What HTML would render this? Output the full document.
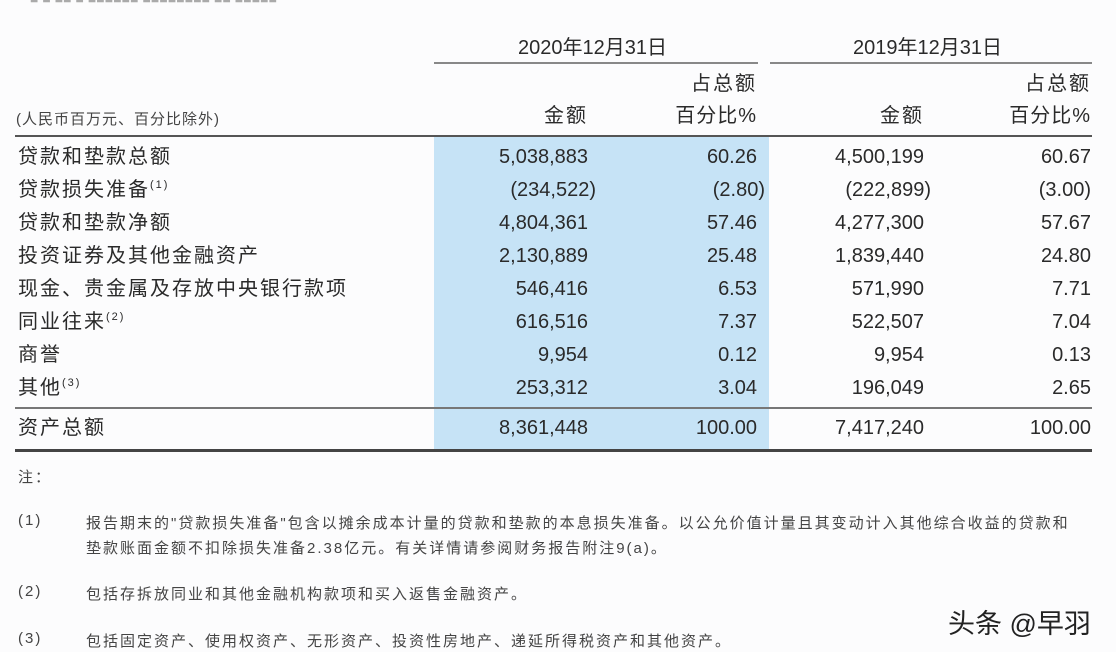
<!DOCTYPE html>
<html><head><meta charset="utf-8">
<style>
html,body{margin:0;padding:0;}
body{width:1116px;height:652px;background:#fcfcfd;position:relative;overflow:hidden;font-family:"Liberation Sans","Noto Sans CJK SC",sans-serif;color:#2a2a2a;}
.a{position:absolute;white-space:nowrap;}
.hl{position:absolute;left:434px;top:137px;width:335px;height:312px;background:#c6e3f6;}
.line{position:absolute;background:#555;}
.row{font-size:20px;line-height:24px;}
.lbl{left:18px;letter-spacing:2px;}
.c1{right:528px;} .c2{right:359px;} .c3{right:192px;} .c4{right:25px;}
sup{font-size:11px;position:relative;top:-8px;vertical-align:baseline;line-height:0;}
.note{font-size:15px;color:#444;letter-spacing:2px;}
</style></head>
<body>
<div class="a" style="left:30px;top:-10px;font-size:14px;color:#aaa;">■ ■ ■■ ■ ■■■■■■ ■■■■■■■■ ■■ ■■■■■</div>
<div class="hl"></div>
<div class="a" style="left:518px;top:31px;font-size:20px;">2020年12月31日</div>
<div class="a" style="left:853px;top:31px;font-size:20px;">2019年12月31日</div>
<div class="line" style="left:434px;top:62px;width:324px;height:2px;background:#888;"></div>
<div class="line" style="left:770px;top:62px;width:322px;height:2px;background:#888;"></div>
<div class="a row c2" style="top:72px;letter-spacing:2px;">占总额</div>
<div class="a row c4" style="top:72px;letter-spacing:2px;">占总额</div>
<div class="a" style="left:16px;top:108px;font-size:15px;color:#444;letter-spacing:1px;">(人民币百万元、百分比除外)</div>
<div class="a row c1" style="top:104px;letter-spacing:2px;">金额</div>
<div class="a row c2" style="top:104px;letter-spacing:1px;">百分比%</div>
<div class="a row c3" style="top:104px;letter-spacing:2px;">金额</div>
<div class="a row c4" style="top:104px;letter-spacing:1px;">百分比%</div>
<div class="line" style="left:15px;top:135px;width:1077px;height:2px;"></div>

<div class="a row lbl" style="top:145px">贷款和垫款总额</div>
<div class="a row c1" style="top:145px">5,038,883</div>
<div class="a row c2" style="top:145px">60.26</div>
<div class="a row c3" style="top:145px">4,500,199</div>
<div class="a row c4" style="top:145px">60.67</div>

<div class="a row lbl" style="top:178px">贷款损失准备<sup>(1)</sup></div>
<div class="a row" style="top:178px;right:520px">(234,522)</div>
<div class="a row" style="top:178px;right:351px">(2.80)</div>
<div class="a row" style="top:178px;right:185px">(222,899)</div>
<div class="a row" style="top:178px;right:25px">(3.00)</div>

<div class="a row lbl" style="top:211px">贷款和垫款净额</div>
<div class="a row c1" style="top:211px">4,804,361</div>
<div class="a row c2" style="top:211px">57.46</div>
<div class="a row c3" style="top:211px">4,277,300</div>
<div class="a row c4" style="top:211px">57.67</div>

<div class="a row lbl" style="top:244px">投资证券及其他金融资产</div>
<div class="a row c1" style="top:244px">2,130,889</div>
<div class="a row c2" style="top:244px">25.48</div>
<div class="a row c3" style="top:244px">1,839,440</div>
<div class="a row c4" style="top:244px">24.80</div>

<div class="a row lbl" style="top:277px">现金、贵金属及存放中央银行款项</div>
<div class="a row c1" style="top:277px">546,416</div>
<div class="a row c2" style="top:277px">6.53</div>
<div class="a row c3" style="top:277px">571,990</div>
<div class="a row c4" style="top:277px">7.71</div>

<div class="a row lbl" style="top:310px">同业往来<sup>(2)</sup></div>
<div class="a row c1" style="top:310px">616,516</div>
<div class="a row c2" style="top:310px">7.37</div>
<div class="a row c3" style="top:310px">522,507</div>
<div class="a row c4" style="top:310px">7.04</div>

<div class="a row lbl" style="top:343px">商誉</div>
<div class="a row c1" style="top:343px">9,954</div>
<div class="a row c2" style="top:343px">0.12</div>
<div class="a row c3" style="top:343px">9,954</div>
<div class="a row c4" style="top:343px">0.13</div>

<div class="a row lbl" style="top:376px">其他<sup>(3)</sup></div>
<div class="a row c1" style="top:376px">253,312</div>
<div class="a row c2" style="top:376px">3.04</div>
<div class="a row c3" style="top:376px">196,049</div>
<div class="a row c4" style="top:376px">2.65</div>

<div class="line" style="left:15px;top:407px;width:1077px;height:2px;background:#777;"></div>

<div class="a row lbl" style="top:416px">资产总额</div>
<div class="a row c1" style="top:416px">8,361,448</div>
<div class="a row c2" style="top:416px">100.00</div>
<div class="a row c3" style="top:416px">7,417,240</div>
<div class="a row c4" style="top:416px">100.00</div>

<div class="line" style="left:15px;top:449px;width:1077px;height:3px;background:#444;"></div>

<div class="a note" style="left:18px;top:466px;">注：</div>
<div class="a note" style="left:18px;top:512px;">(1)</div>
<div class="a note" style="left:86px;top:512px;">报告期末的"贷款损失准备"包含以摊余成本计量的贷款和垫款的本息损失准备。以公允价值计量且其变动计入其他综合收益的贷款和</div>
<div class="a note" style="left:86px;top:537px;">垫款账面金额不扣除损失准备2.38亿元。有关详情请参阅财务报告附注9(a)。</div>
<div class="a note" style="left:18px;top:583px;">(2)</div>
<div class="a note" style="left:86px;top:583px;">包括存拆放同业和其他金融机构款项和买入返售金融资产。</div>
<div class="a note" style="left:18px;top:630px;">(3)</div>
<div class="a note" style="left:86px;top:630px;">包括固定资产、使用权资产、无形资产、投资性房地产、递延所得税资产和其他资产。</div>
<div class="a" style="left:948px;top:602px;font-size:27px;color:#222;">头条 @早羽</div>
</body></html>
